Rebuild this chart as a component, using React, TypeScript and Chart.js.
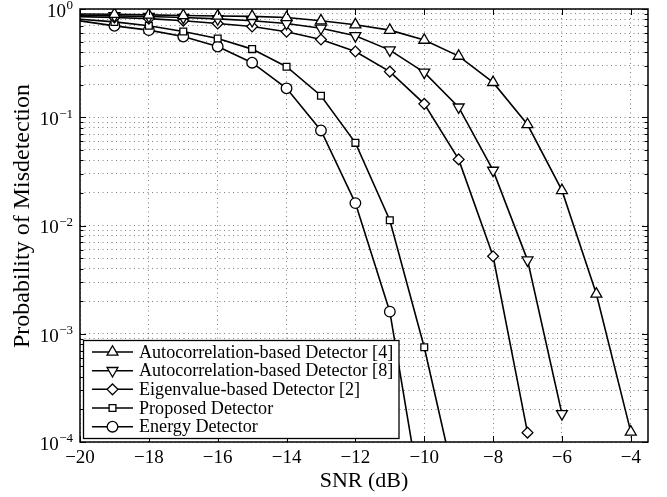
import React, { useEffect, useRef } from 'react';
import { Chart, registerables } from 'chart.js';

Chart.register(...registerables);

// ---- data ----
const snrDb = [-20, -19, -18, -17, -16, -15, -14, -13, -12, -11, -10, -9, -8, -7, -6, -5, -4];
const xTickValues = [-20, -18, -16, -14, -12, -10, -8, -6, -4];
const yDecadeExponents = [0, -1, -2, -3, -4];

const autocorr4 = [0.9, 0.893, 0.882, 0.872, 0.862, 0.855, 0.834, 0.78, 0.716, 0.638, 0.516, 0.367, 0.21, 0.0857, 0.0211, 0.00233, 0.000124];
const autocorr8 = [0.875, 0.864, 0.853, 0.834, 0.81, 0.78, 0.735, 0.665, 0.565, 0.417, 0.26, 0.124, 0.0323, 0.00479, 0.000182, null, null];
const eigenvalue = [0.85, 0.835, 0.815, 0.78, 0.735, 0.69, 0.617, 0.523, 0.405, 0.264, 0.133, 0.0408, 0.0052, 0.000122, null, null, null];
const proposed = [0.805, 0.76, 0.7, 0.62, 0.534, 0.426, 0.293, 0.158, 0.058, 0.0112, 0.00075, 0.00003, null, null, null, null, null];
const energy = [0.777, 0.699, 0.638, 0.557, 0.45, 0.319, 0.185, 0.0755, 0.0161, 0.0016, 0.00002, null, null, null, null, null, null];

const seriesLabels = [
  'Autocorrelation-based Detector [4]',
  'Autocorrelation-based Detector [8]',
  'Eigenvalue-based Detector [2]',
  'Proposed Detector',
  'Energy Detector',
];
const seriesValues = [autocorr4, autocorr8, eigenvalue, proposed, energy];
const markerStyles = ['triangle', 'triangle', 'rectRot', 'rect', 'circle'];
const markerRotations = [0, 180, 0, 0, 0];
const markerRadii = [6.3, 6.3, 5.4, 4.8, 5.3];

const xTitle = 'SNR (dB)';
const yTitle = 'Probability of Misdetection';

const SERIF = '"Liberation Serif", "Times New Roman", serif';
const GRID_COLOR = 'rgba(0,0,0,0.5)';

const minus = (v: number) => (v < 0 ? '\u2212' + Math.abs(v) : String(v));

function drawMarker(ctx: CanvasRenderingContext2D, style: string, x: number, y: number, r: number, rotation: number) {
  ctx.beginPath();
  if (style === 'circle') {
    ctx.arc(x, y, r, 0, Math.PI * 2);
  } else if (style === 'triangle') {
    let rad = (rotation * Math.PI) / 180;
    ctx.moveTo(x + Math.sin(rad) * r, y - Math.cos(rad) * r);
    rad += (2 * Math.PI) / 3;
    ctx.lineTo(x + Math.sin(rad) * r, y - Math.cos(rad) * r);
    rad += (2 * Math.PI) / 3;
    ctx.lineTo(x + Math.sin(rad) * r, y - Math.cos(rad) * r);
    ctx.closePath();
  } else if (style === 'rect') {
    const s = Math.SQRT1_2 * r;
    ctx.rect(x - s, y - s, 2 * s, 2 * s);
  } else if (style === 'rectRot') {
    ctx.moveTo(x, y - r);
    ctx.lineTo(x + r, y);
    ctx.lineTo(x, y + r);
    ctx.lineTo(x - r, y);
    ctx.closePath();
  }
  ctx.fill();
  ctx.stroke();
}

const decorPlugin = {
  id: 'decor',
  afterDatasetsDraw(chart: any) {
    const { ctx, chartArea: a, scales } = chart;
    const xs = scales.x;
    const ys = scales.y;
    ctx.save();

    // inward ticks on all four sides
    ctx.strokeStyle = '#000';
    ctx.lineWidth = 1;
    ctx.beginPath();
    for (const v of xTickValues) {
      const px = Math.round(xs.getPixelForValue(v)) + 0.5;
      ctx.moveTo(px, a.bottom);
      ctx.lineTo(px, a.bottom - 6);
      ctx.moveTo(px, a.top);
      ctx.lineTo(px, a.top + 6);
    }
    for (const t of ys.ticks) {
      const py = Math.round(ys.getPixelForValue(t.value)) + 0.5;
      const len = t.major ? 6 : 3.5;
      ctx.moveTo(a.left, py);
      ctx.lineTo(a.left + len, py);
      ctx.moveTo(a.right, py);
      ctx.lineTo(a.right - len, py);
    }
    ctx.stroke();

    // frame
    ctx.lineWidth = 1.5;
    ctx.strokeRect(a.left, a.top, a.right - a.left, a.bottom - a.top);

    // y tick labels 10^n
    ctx.fillStyle = '#000';
    ctx.textBaseline = 'middle';
    for (const e of yDecadeExponents) {
      const py = ys.getPixelForValue(Math.pow(10, e));
      const expText = minus(e);
      ctx.font = `13px ${SERIF}`;
      const expW = ctx.measureText(expText).width;
      const xEnd = a.left - 7;
      ctx.textAlign = 'left';
      ctx.fillText(expText, xEnd - expW, py - 3);
      ctx.font = `19px ${SERIF}`;
      ctx.textAlign = 'right';
      ctx.fillText('10', xEnd - expW - 0.5, py + 3);
    }

    // y title
    ctx.save();
    ctx.translate(23, 216);
    ctx.rotate(-Math.PI / 2);
    ctx.font = `24px ${SERIF}`;
    ctx.textAlign = 'center';
    ctx.textBaseline = 'middle';
    ctx.fillText(yTitle, 0, 0);
    ctx.restore();

    // legend box
    const bx = a.left + 3.5;
    const by = a.bottom - 101.5;
    const bw = 315.5;
    const bh = 98;
    ctx.fillStyle = '#fff';
    ctx.fillRect(bx, by, bw, bh);
    ctx.lineWidth = 1.3;
    ctx.strokeStyle = '#000';
    ctx.strokeRect(bx, by, bw, bh);
    ctx.font = `18.1px ${SERIF}`;
    ctx.textAlign = 'left';
    ctx.textBaseline = 'middle';
    for (let i = 0; i < seriesLabels.length; i++) {
      const cy = by + 11.5 + i * 18.67;
      ctx.lineWidth = 1.5;
      ctx.beginPath();
      ctx.moveTo(bx + 8.5, cy);
      ctx.lineTo(bx + 49.5, cy);
      ctx.stroke();
      ctx.fillStyle = '#fff';
      ctx.lineWidth = 1.3;
      drawMarker(ctx, markerStyles[i], bx + 29, cy, markerRadii[i], markerRotations[i]);
      ctx.fillStyle = '#000';
      ctx.fillText(seriesLabels[i], bx + 55.5, cy + 1);
    }
    ctx.restore();
  },
};

export default function App() {
  const canvasRef = useRef<HTMLCanvasElement | null>(null);

  useEffect(() => {
    const canvas = canvasRef.current;
    if (!canvas) return;

    const yTickValues: number[] = [];
    for (let e = -4; e < 0; e++) {
      for (let m = 1; m <= 9; m++) yTickValues.push(m * Math.pow(10, e));
    }
    yTickValues.push(1);

    const datasets = seriesValues.map((vals, i) => ({
      label: seriesLabels[i],
      data: snrDb.map((x, j) => ({ x, y: vals[j] })),
      borderColor: '#000',
      borderWidth: 1.6,
      backgroundColor: '#fff',
      pointStyle: markerStyles[i],
      pointRotation: markerRotations[i],
      pointRadius: (c: any) => (c.dataIndex === 0 ? 0 : markerRadii[i]),
      pointHoverRadius: markerRadii[i],
      pointBorderWidth: 1.3,
      pointBorderColor: '#000',
      pointBackgroundColor: '#fff',
      tension: 0,
      spanGaps: false,
      clip: 0,
    }));

    const chart = new Chart(canvas, {
      type: 'line',
      data: { datasets },
      options: {
        responsive: false,
        animation: false,
        events: [],
        layout: { padding: { left: 0, right: 19, top: 9, bottom: 0 } },
        plugins: { legend: { display: false }, tooltip: { enabled: false } },
        scales: {
          x: {
            type: 'linear',
            min: -20,
            max: -3.5,
            afterBuildTicks: (s: any) => {
              s.ticks = xTickValues.map((v) => ({ value: v }));
            },
            afterFit: (s: any) => {
              s.height = 55;
            },
            grid: { color: GRID_COLOR, lineWidth: 1, drawTicks: false },
            border: { display: false, dash: [1, 3.5] },
            ticks: {
              autoSkip: false,
              maxRotation: 0,
              padding: 5,
              color: '#000',
              font: { family: SERIF, size: 19 },
              callback: (v: any) => minus(Number(v)),
            },
            title: {
              display: true,
              text: xTitle,
              color: '#000',
              font: { family: SERIF, size: 22 },
              padding: { top: 0, bottom: 3 },
            },
          },
          y: {
            type: 'logarithmic',
            min: 1e-4,
            max: 1,
            afterBuildTicks: (s: any) => {
              s.ticks = yTickValues.map((v) => ({
                value: v,
                major: Math.abs(Math.log10(v) - Math.round(Math.log10(v))) < 1e-9,
              }));
            },
            afterFit: (s: any) => {
              s.width = 80;
            },
            grid: { color: GRID_COLOR, lineWidth: 1, drawTicks: false },
            border: { display: false, dash: [1, 3.5] },
            ticks: { display: false },
          },
        },
      },
      plugins: [decorPlugin],
    });

    return () => chart.destroy();
  }, []);

  return (
    <div style={{ position: 'fixed', left: 0, top: 0, width: 667, height: 497, background: '#fff' }}>
      <canvas ref={canvasRef} width={667} height={497} />
    </div>
  );
}
